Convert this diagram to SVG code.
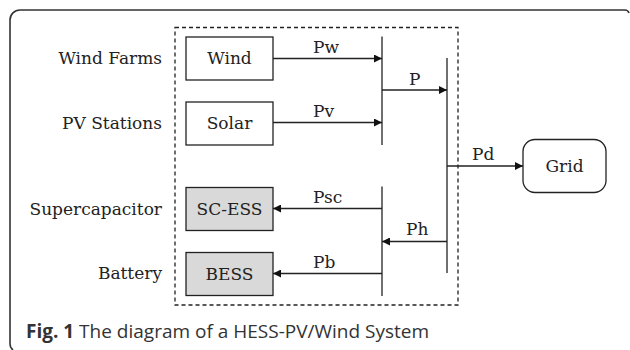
<svg xmlns="http://www.w3.org/2000/svg" width="630" height="350" viewBox="0 0 630 350">
<defs>
<style>
.frame{fill:none;stroke:#333;stroke-width:1.6}
.dash{fill:none;stroke:#222;stroke-width:1.3;stroke-dasharray:4,3}
.box{fill:#fff;stroke:#222;stroke-width:1.3}
.gbox{fill:#d9d9d9;stroke:#222;stroke-width:1.3}
.ln{fill:none;stroke:#222;stroke-width:1.3}
.t{font-family:"DejaVu Serif","Liberation Serif",serif;font-size:17px;fill:#222}
.cap{font-family:"Open Sans","Noto Sans",sans-serif;font-size:19px;fill:#333}
</style>
<marker id="ah" viewBox="0 0 10 10" refX="10" refY="5" markerWidth="8" markerHeight="8" markerUnits="userSpaceOnUse" orient="auto">
<path d="M0,0 L10,5 L0,10 z" fill="#111"/>
</marker>
</defs>
<rect width="630" height="350" fill="#fff"/>
<path class="frame" d="M13,350 Q10,348 10,344 L10,20 A10,10 0 0 1 20,10 L625,10 Q628,10 629,13"/>
<rect class="dash" x="175" y="27.5" width="283" height="277.5"/>

<g id="label-wind-farms"><text class="t" x="162" y="63.5" text-anchor="end">Wind Farms</text></g>
<g id="label-pv-stations"><text class="t" x="162" y="128.5" text-anchor="end">PV Stations</text></g>
<g id="label-supercapacitor"><text class="t" x="162" y="214.5" text-anchor="end">Supercapacitor</text></g>
<g id="label-battery"><text class="t" x="162" y="278.5" text-anchor="end">Battery</text></g>

<g id="wind"><rect class="box" x="186" y="37" width="87" height="43"/><text class="t" x="229.5" y="64" text-anchor="middle">Wind</text></g>
<g id="solar"><rect class="box" x="186" y="102" width="87" height="43"/><text class="t" x="229.5" y="129" text-anchor="middle">Solar</text></g>
<g id="sc-ess"><rect class="gbox" x="186" y="187.5" width="87" height="43"/><text class="t" x="229.5" y="215" text-anchor="middle">SC-ESS</text></g>
<g id="bess"><rect class="gbox" x="186" y="252.5" width="87" height="43"/><text class="t" x="229.5" y="280" text-anchor="middle">BESS</text></g>
<g id="grid"><rect class="box" x="523" y="139.5" width="83" height="53" rx="12" ry="12"/><text class="t" x="564.5" y="172" text-anchor="middle">Grid</text></g>

<g id="connectors">
<line class="ln" x1="382" y1="36.5" x2="382" y2="145"/>
<line class="ln" x1="447" y1="58" x2="447" y2="273"/>
<line class="ln" x1="382" y1="186.5" x2="382" y2="296"/>
<line class="ln" x1="273" y1="58.5" x2="382" y2="58.5" marker-end="url(#ah)"/>
<line class="ln" x1="273" y1="122.5" x2="382" y2="122.5" marker-end="url(#ah)"/>
<line class="ln" x1="382" y1="90" x2="447" y2="90" marker-end="url(#ah)"/>
<line class="ln" x1="447" y1="166" x2="523" y2="166" marker-end="url(#ah)"/>
<line class="ln" x1="447" y1="241.5" x2="382" y2="241.5" marker-end="url(#ah)"/>
<line class="ln" x1="382" y1="208.5" x2="273" y2="208.5" marker-end="url(#ah)"/>
<line class="ln" x1="382" y1="273.5" x2="273" y2="273.5" marker-end="url(#ah)"/>
<text class="t" x="313" y="53">Pw</text>
<text class="t" x="313" y="117">Pv</text>
<text class="t" x="409" y="85">P</text>
<text class="t" x="472" y="160">Pd</text>
<text class="t" x="313" y="203">Psc</text>
<text class="t" x="313" y="268">Pb</text>
<text class="t" x="406" y="235">Ph</text>
</g>

<text class="cap" x="26" y="338"><tspan font-weight="bold">Fig. 1</tspan> The diagram of a HESS-PV/Wind System</text>
</svg>
